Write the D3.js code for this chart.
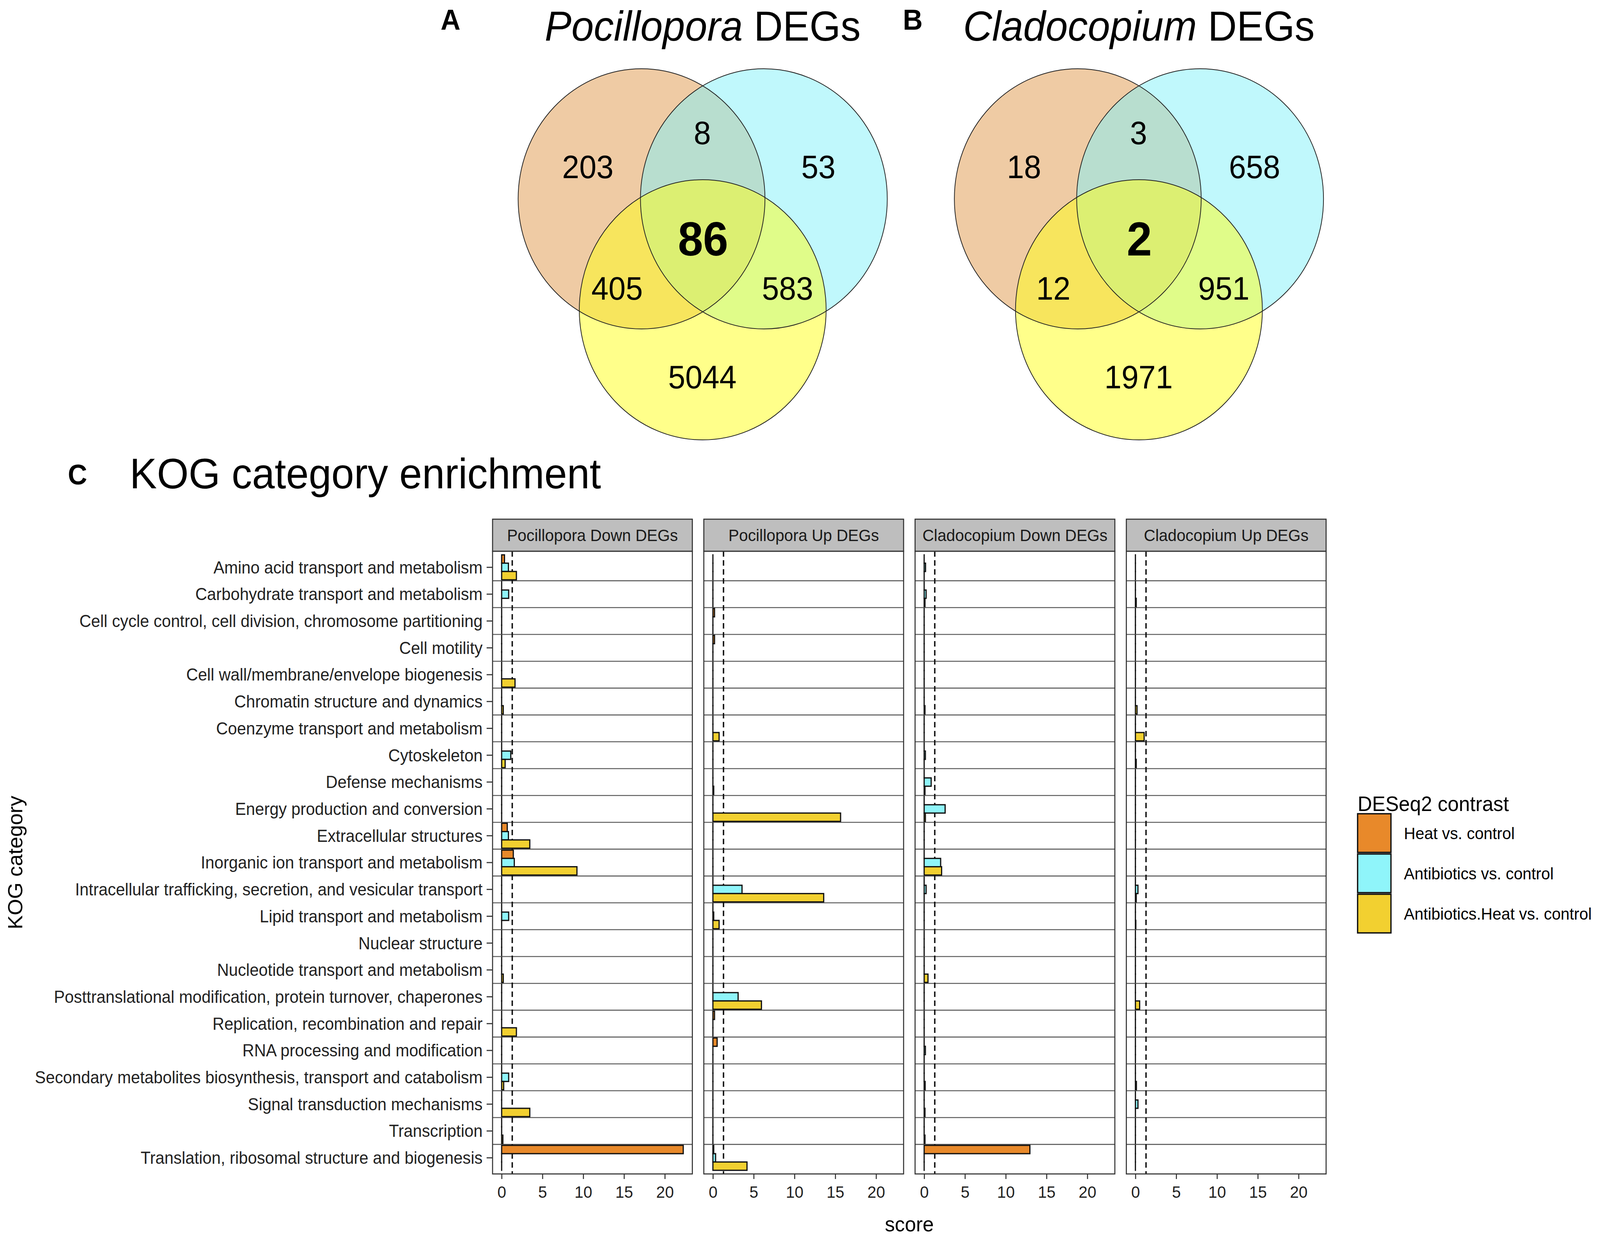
<!DOCTYPE html>
<html>
<head>
<meta charset="utf-8">
<script src="https://cdn.jsdelivr.net/npm/d3@7"></script>
<style>
  html, body { margin: 0; padding: 0; background: #fff; width: 100%; height: 100%; overflow: hidden; }
  #chart svg { display: block; width: 100vw; height: 100vh; }
  text { font-family: "Liberation Sans", Arial, Helvetica, sans-serif; }
</style>
</head>
<body>
<div id="chart"></div>
<script>
(function () {

  // ---- data ----
  const categories = [
    'Amino acid transport and metabolism',
    'Carbohydrate transport and metabolism',
    'Cell cycle control, cell division, chromosome partitioning',
    'Cell motility',
    'Cell wall/membrane/envelope biogenesis',
    'Chromatin structure and dynamics',
    'Coenzyme transport and metabolism',
    'Cytoskeleton',
    'Defense mechanisms',
    'Energy production and conversion',
    'Extracellular structures',
    'Inorganic ion transport and metabolism',
    'Intracellular trafficking, secretion, and vesicular transport',
    'Lipid transport and metabolism',
    'Nuclear structure',
    'Nucleotide transport and metabolism',
    'Posttranslational modification, protein turnover, chaperones',
    'Replication, recombination and repair',
    'RNA processing and modification',
    'Secondary metabolites biosynthesis, transport and catabolism',
    'Signal transduction mechanisms',
    'Transcription',
    'Translation, ribosomal structure and biogenesis'
  ]

  const contrasts = ['Heat vs. control', 'Antibiotics vs. control', 'Antibiotics.Heat vs. control']
  const contrastColors = ['#E8892A', '#8FF5FA', '#F2D030']

  const panelNames = ['Pocillopora Down DEGs', 'Pocillopora Up DEGs', 'Cladocopium Down DEGs', 'Cladocopium Up DEGs']

  // scores, one value per KOG category (same order as categories)
  const pocDownHeat  = [0.35, 0, 0, 0, 0, 0, 0, 0, 0, 0, 0.69, 1.43, 0, 0, 0, 0, 0, 0, 0, 0, 0, 0, 22.26]
  const pocDownAnti  = [0.83, 0.86, 0, 0, 0, 0, 0, 1.12, 0, 0, 0.83, 1.55, 0, 0.86, 0, 0, 0, 0, 0, 0.86, 0, 0, 0]
  const pocDownCombo = [1.81, 0, 0, 0, 1.64, 0.2, 0, 0.43, 0, 0, 3.45, 9.23, 0, 0, 0, 0.2, 0, 1.81, 0, 0.25, 3.45, 0.15, 0]

  const pocUpHeat  = [0, 0, 0.2, 0.2, 0, 0, 0, 0, 0, 0, 0, 0, 0, 0, 0, 0, 0, 0.2, 0.52, 0, 0, 0, 0.1]
  const pocUpAnti  = [0, 0, 0, 0, 0, 0, 0, 0, 0, 0, 0, 0, 3.57, 0.1, 0, 0, 3.09, 0, 0, 0, 0, 0, 0.33]
  const pocUpCombo = [0, 0, 0, 0, 0, 0, 0.76, 0, 0.1, 15.65, 0, 0, 13.58, 0.76, 0, 0, 5.95, 0, 0, 0, 0, 0, 4.18]

  const cladDownHeat  = [0, 0, 0, 0, 0, 0, 0, 0, 0, 0, 0, 0, 0, 0, 0, 0, 0, 0, 0, 0, 0, 0, 12.96]
  const cladDownAnti  = [0.17, 0.24, 0, 0, 0, 0, 0, 0.15, 0.86, 2.57, 0, 2.02, 0.24, 0, 0, 0, 0, 0, 0.15, 0, 0, 0, 0]
  const cladDownCombo = [0, 0.1, 0, 0, 0, 0.1, 0, 0, 0.1, 0.15, 0, 2.14, 0, 0, 0, 0.47, 0, 0, 0, 0.12, 0.1, 0.1, 0]

  const cladUpHeat  = [0, 0, 0, 0, 0, 0, 0, 0, 0, 0, 0, 0, 0, 0, 0, 0, 0, 0, 0, 0, 0, 0, 0]
  const cladUpAnti  = [0, 0, 0, 0, 0, 0, 0, 0, 0, 0, 0, 0, 0.31, 0, 0, 0, 0, 0, 0, 0, 0.31, 0, 0]
  const cladUpCombo = [0, 0.1, 0, 0, 0, 0.2, 1.07, 0.1, 0, 0, 0, 0, 0.1, 0.05, 0, 0, 0.52, 0, 0, 0.12, 0, 0, 0]

  const xTicks = [0, 5, 10, 15, 20]
  const sigThreshold = 1.3

  // venn regions: heat only, heat&anti, anti only, all three, heat&combo, anti&combo, combo only
  const vennRegions = ['H', 'HA', 'A', 'HAC', 'HC', 'AC', 'C']
  const pocilloporaVenn = [203, 8, 53, 86, 405, 583, 5044]
  const cladocopiumVenn = [18, 3, 658, 2, 12, 951, 1971]
  const vennFills = ['#DF9749', '#81F1F9', '#FFFF15']

  const panelData = [
    [pocDownHeat, pocDownAnti, pocDownCombo],
    [pocUpHeat, pocUpAnti, pocUpCombo],
    [cladDownHeat, cladDownAnti, cladDownCombo],
    [cladUpHeat, cladUpAnti, cladUpCombo]
  ]

  // ---- page ----
  const W = 4317
  const H = 3169

  // drawn in a fixed 4317x3169 coordinate system, stretched to fill the window
  const svg = d3.select('#chart').append('svg')
    .attr('viewBox', '0 0 ' + W + ' ' + H)
    .attr('preserveAspectRatio', 'none')

  svg.append('rect').attr('width', W).attr('height', H).attr('fill', '#fff')

  // ---- venn diagrams (A, B) ----
  const r = 333
  const circleOffsets = [[-165, -95], [165, -95], [0, 189]]
  const labelOffsets = {
    H: [-310, -148], HA: [-1, -235], A: [312, -148], HAC: [1, 50],
    HC: [-231, 163], AC: [229, 163], C: [-1, 390]
  }

  function drawVenn (cx, cy, counts, italicName, letter, letterX) {
    const g = svg.append('g')

    g.selectAll('circle.fill')
      .data(vennFills)
      .join('circle')
      .attr('class', 'fill')
      .attr('cx', (d, i) => cx + circleOffsets[i][0])
      .attr('cy', (d, i) => cy + circleOffsets[i][1])
      .attr('r', r)
      .attr('fill', d => d)
      .attr('fill-opacity', 0.5)

    g.selectAll('circle.edge')
      .data(vennFills)
      .join('circle')
      .attr('class', 'edge')
      .attr('cx', (d, i) => cx + circleOffsets[i][0])
      .attr('cy', (d, i) => cy + circleOffsets[i][1])
      .attr('r', r)
      .attr('fill', 'none')
      .attr('stroke', '#222')
      .attr('stroke-width', 2)

    g.selectAll('text.count')
      .data(counts)
      .join('text')
      .attr('class', 'count')
      .attr('x', (d, i) => cx + labelOffsets[vennRegions[i]][0])
      .attr('y', (d, i) => cy + labelOffsets[vennRegions[i]][1])
      .attr('text-anchor', 'middle')
      .attr('font-size', (d, i) => vennRegions[i] === 'HAC' ? 122 : 83)
      .attr('font-weight', (d, i) => vennRegions[i] === 'HAC' ? 'bold' : 'normal')
      .text(d => d)

    const title = g.append('text')
      .attr('x', cx)
      .attr('y', 104)
      .attr('text-anchor', 'middle')
      .attr('font-size', 108)
    title.append('tspan').attr('font-style', 'italic').text(italicName)
    title.append('tspan').text(' DEGs')

    g.append('text')
      .attr('x', letterX)
      .attr('y', 76)
      .attr('font-size', 74)
      .attr('font-weight', 'bold')
      .text(letter)
  }

  drawVenn(1896, 604, pocilloporaVenn, 'Pocillopora', 'A', 1189)
  drawVenn(3073, 604, cladocopiumVenn, 'Cladocopium', 'B', 2436)

  // ---- panel C ----
  svg.append('text')
    .attr('x', 183).attr('y', 1240)
    .attr('font-size', 72).attr('font-weight', 'bold')
    .text('C')

  svg.append('text')
    .attr('x', 350).attr('y', 1250)
    .attr('font-size', 110)
    .text('KOG category enrichment')

  const panelLeft = 1329
  const panelW = 539
  const panelStep = 570
  const stripTop = 1329
  const stripH = 82
  const plotTop = stripTop + stripH
  const plotBottom = 3005

  const xScale = d3.scaleLinear()
    .domain([-1.113, 23.373])
    .range([0, panelW])

  const yScale = d3.scaleBand()
    .domain(categories)
    .range([plotTop, plotBottom])
    .paddingInner(0)
    .paddingOuter(0.1)

  const groupW = yScale.bandwidth() * 0.93
  const dodgeScale = d3.scaleBand()
    .domain(contrasts)
    .range([(yScale.bandwidth() - groupW) / 2, (yScale.bandwidth() + groupW) / 2])

  panelNames.forEach((name, p) => {
    const g = svg.append('g')
      .attr('transform', 'translate(' + (panelLeft + p * panelStep) + ',0)')

    // panel background
    g.append('rect')
      .attr('x', 0).attr('y', plotTop)
      .attr('width', panelW).attr('height', plotBottom - plotTop)
      .attr('fill', '#fff')

    // separators between categories
    g.selectAll('line.sep')
      .data(categories.slice(1))
      .join('line')
      .attr('class', 'sep')
      .attr('x1', 0).attr('x2', panelW)
      .attr('y1', d => yScale(d)).attr('y2', d => yScale(d))
      .attr('stroke', '#5f5f5f')
      .attr('stroke-width', 2.6)

    // significance threshold
    g.append('line')
      .attr('x1', xScale(sigThreshold)).attr('x2', xScale(sigThreshold))
      .attr('y1', plotTop).attr('y2', plotBottom)
      .attr('stroke', '#111')
      .attr('stroke-width', 3.8)
      .attr('stroke-dasharray', '14,9')

    // bars
    const bars = []
    panelData[p].forEach((series, s) => {
      series.forEach((v, i) => bars.push({ cat: categories[i], contrast: contrasts[s], color: contrastColors[s], value: v }))
    })

    g.selectAll('rect.bar')
      .data(bars)
      .join('rect')
      .attr('class', 'bar')
      .attr('x', xScale(0))
      .attr('y', d => yScale(d.cat) + dodgeScale(d.contrast))
      .attr('width', d => Math.max(xScale(d.value) - xScale(0), 0.01))
      .attr('height', dodgeScale.bandwidth())
      .attr('fill', d => d.color)
      .attr('stroke', '#111')
      .attr('stroke-width', 3.2)

    // panel border
    g.append('rect')
      .attr('x', 0).attr('y', plotTop)
      .attr('width', panelW).attr('height', plotBottom - plotTop)
      .attr('fill', 'none')
      .attr('stroke', '#333')
      .attr('stroke-width', 2.8)

    // strip
    g.append('rect')
      .attr('x', 0).attr('y', stripTop)
      .attr('width', panelW).attr('height', stripH)
      .attr('fill', '#BEBEBE')
      .attr('stroke', '#333')
      .attr('stroke-width', 2.8)

    g.append('text')
      .attr('x', panelW / 2)
      .attr('y', stripTop + stripH / 2 + 15)
      .attr('text-anchor', 'middle')
      .attr('font-size', 43)
      .attr('fill', '#1a1a1a')
      .text(name)

    // x axis
    const xAxis = d3.axisBottom(xScale)
      .tickValues(xTicks)
      .tickSize(13)
      .tickPadding(17)

    const ax = g.append('g')
      .attr('class', 'axis x-axis')
      .attr('transform', 'translate(0,' + plotBottom + ')')
      .call(xAxis)
    ax.select('.domain').remove()
    ax.selectAll('line').attr('stroke', '#333').attr('stroke-width', 2.8)
    ax.selectAll('text')
      .attr('font-size', 43)
      .attr('fill', '#222')
      .style('font-family', '"Liberation Sans", Arial, Helvetica, sans-serif')

    if (p === 0) {
      const yAxis = d3.axisLeft(yScale)
        .tickSize(16)
        .tickPadding(11)
      const ay = g.append('g')
        .attr('class', 'axis y-axis')
        .call(yAxis)
      ay.select('.domain').remove()
      ay.selectAll('line').attr('stroke', '#333').attr('stroke-width', 2.8)
      ay.selectAll('text')
        .attr('font-size', 44)
        .attr('fill', '#222')
        .attr('dy', '0.35em')
        .style('font-family', '"Liberation Sans", Arial, Helvetica, sans-serif')
    }
  })

  // axis titles
  const panelsRight = panelLeft + 3 * panelStep + panelW
  svg.append('text')
    .attr('x', (panelLeft + panelsRight) / 2)
    .attr('y', 3152)
    .attr('text-anchor', 'middle')
    .attr('font-size', 54)
    .text('score')

  svg.append('text')
    .attr('transform', 'translate(60,' + ((plotTop + plotBottom) / 2) + ') rotate(-90)')
    .attr('text-anchor', 'middle')
    .attr('font-size', 54)
    .text('KOG category')

  // legend
  const legend = svg.append('g').attr('transform', 'translate(3663,0)')
  legend.append('text')
    .attr('x', 0).attr('y', 2076)
    .attr('font-size', 54)
    .text('DESeq2 contrast')

  legend.selectAll('rect.key')
    .data(contrasts)
    .join('rect')
    .attr('class', 'key')
    .attr('x', 0)
    .attr('y', (d, i) => 2083 + i * 103)
    .attr('width', 90)
    .attr('height', 99)
    .attr('fill', (d, i) => contrastColors[i])
    .attr('stroke', '#111')
    .attr('stroke-width', 3.5)

  legend.selectAll('text.label')
    .data(contrasts)
    .join('text')
    .attr('class', 'label')
    .attr('x', 125)
    .attr('y', (d, i) => 2083 + i * 103 + 50 + 15)
    .attr('font-size', 43)
    .text(d => d)

})();
</script>
</body>
</html>
